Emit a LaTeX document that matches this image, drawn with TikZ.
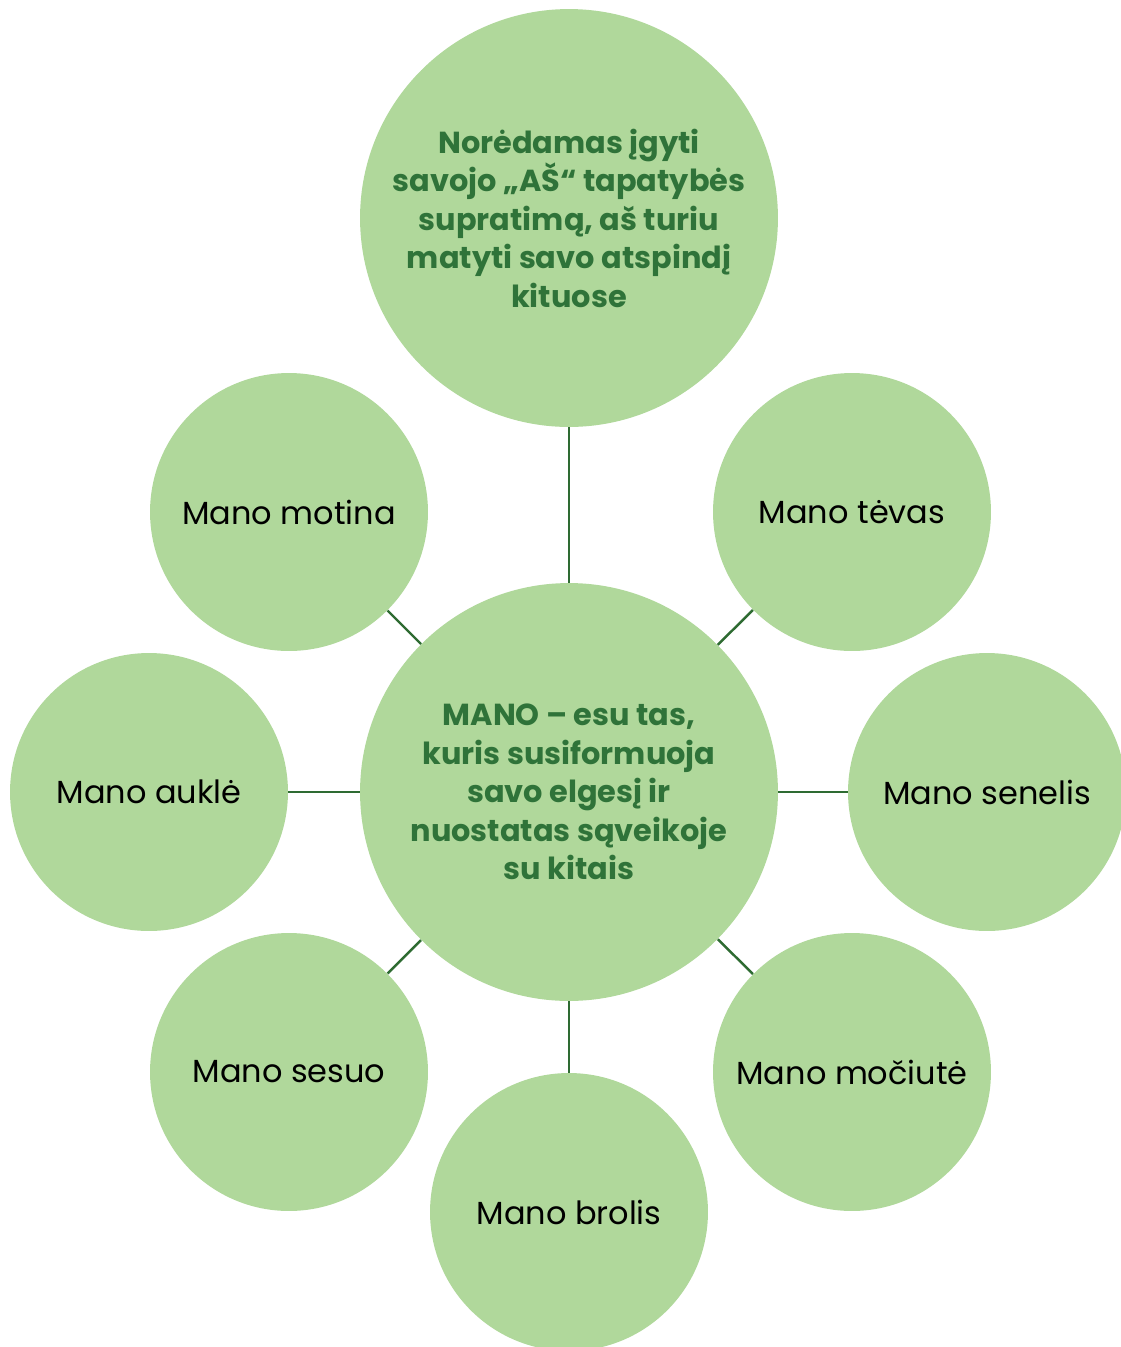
\documentclass[tikz,border=0pt]{standalone}
\usepackage{fontspec}
\setmainfont{Poppins}
\usepackage{xcolor}
\usetikzlibrary{positioning}
\definecolor{leaf}{HTML}{B0D89B}
\definecolor{darkleaf}{HTML}{2F7339}
\definecolor{stem}{HTML}{2E6B32}

\begin{document}
\begin{tikzpicture}[x=0.02cm, y=-0.02cm,
    bigcircle/.style={circle, fill=leaf, minimum size=8.36cm, inner sep=0pt, align=center, font=\fontsize{17.3}{21.9}\selectfont\bfseries, text=darkleaf},
    smallcircle/.style={circle, fill=leaf, minimum size=5.56cm, inner sep=0pt, align=center, font=\fontsize{18.2}{21}\selectfont},
    link/.style={stem, line width=1.4pt}]
    \useasboundingbox (0,0) rectangle (1121,1347);

    \node[bigcircle] (goal) at (569,218) {Norėdamas įgyti\\savojo „AŠ“ tapatybės\\supratimą, aš turiu\\matyti savo atspindį\\kituose};
    \node[bigcircle] (mano) at (569,792) {MANO – esu tas,\\kuris susiformuoja\\savo elgesį ir\\nuostatas sąveikoje\\su kitais};

    \node[smallcircle] (motina) at (289,512) {Mano motina};
    \node[smallcircle] (tevas) at (852,512) {Mano tėvas};
    \node[smallcircle] (aukle) at (149,792) {Mano auklė};
    \node[smallcircle] (senelis) at (987,792) {Mano senelis};
    \node[smallcircle] (sesuo) at (289,1072) {Mano sesuo};
    \node[smallcircle] (mociute) at (852,1072) {Mano močiutė};
    \node[smallcircle] (brolis) at (569,1212) {Mano brolis};

    \draw[link] (goal) -- (mano);
    \draw[link] (mano) -- (motina);
    \draw[link] (mano) -- (tevas);
    \draw[link] (mano) -- (aukle);
    \draw[link] (mano) -- (senelis);
    \draw[link] (mano) -- (sesuo);
    \draw[link] (mano) -- (mociute);
    \draw[link] (mano) -- (brolis);
\end{tikzpicture}
\end{document}
